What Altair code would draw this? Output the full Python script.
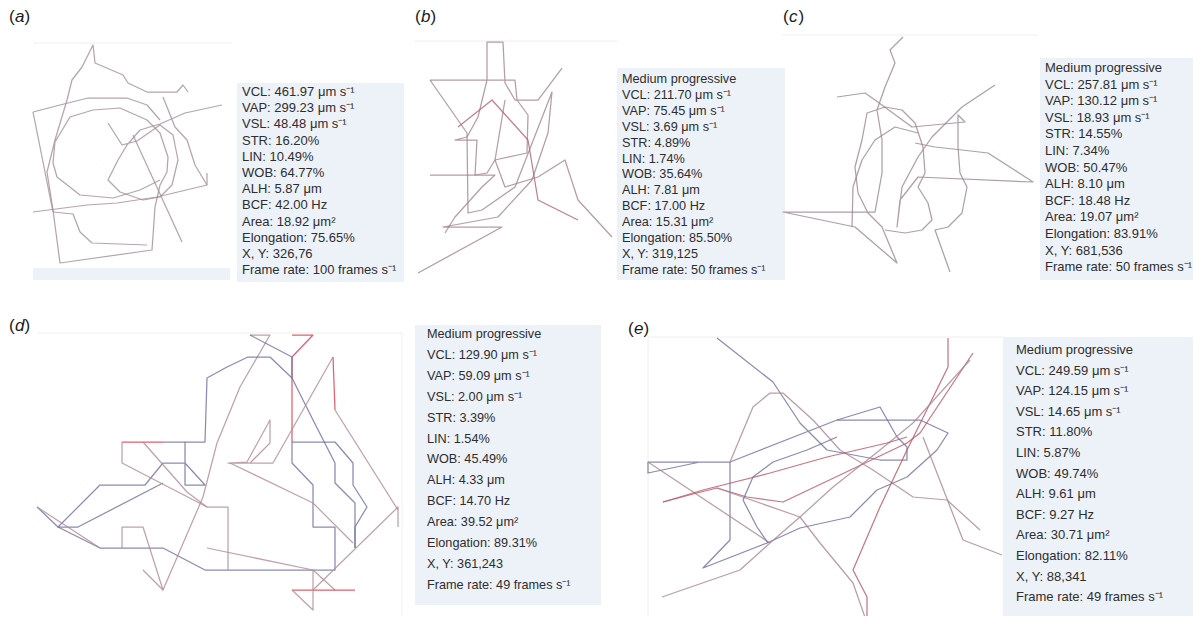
import altair as alt
import pandas as pd

# ---------------- data: info-box texts ----------------
INFO_A = ["VCL: 461.97 μm s⁻¹", "VAP: 299.23 μm s⁻¹", "VSL: 48.48 μm s⁻¹", "STR: 16.20%",
          "LIN: 10.49%", "WOB: 64.77%", "ALH: 5.87 μm", "BCF: 42.00 Hz", "Area: 18.92 μm²",
          "Elongation: 75.65%", "X, Y: 326,76", "Frame rate: 100 frames s⁻¹"]
INFO_B = ["Medium progressive", "VCL: 211.70 μm s⁻¹", "VAP: 75.45 μm s⁻¹", "VSL: 3.69 μm s⁻¹",
          "STR: 4.89%", "LIN: 1.74%", "WOB: 35.64%", "ALH: 7.81 μm", "BCF: 17.00 Hz",
          "Area: 15.31 μm²", "Elongation: 85.50%", "X, Y: 319,125", "Frame rate: 50 frames s⁻¹"]
INFO_C = ["Medium progressive", "VCL: 257.81 μm s⁻¹", "VAP: 130.12 μm s⁻¹", "VSL: 18.93 μm s⁻¹",
          "STR: 14.55%", "LIN: 7.34%", "WOB: 50.47%", "ALH: 8.10 μm", "BCF: 18.48 Hz",
          "Area: 19.07 μm²", "Elongation: 83.91%", "X, Y: 681,536", "Frame rate: 50 frames s⁻¹"]
INFO_D = ["Medium progressive", "VCL: 129.90 μm s⁻¹", "VAP: 59.09 μm s⁻¹", "VSL: 2.00 μm s⁻¹",
          "STR: 3.39%", "LIN: 1.54%", "WOB: 45.49%", "ALH: 4.33 μm", "BCF: 14.70 Hz",
          "Area: 39.52 μm²", "Elongation: 89.31%", "X, Y: 361,243", "Frame rate: 49 frames s⁻¹"]
INFO_E = ["Medium progressive", "VCL: 249.59 μm s⁻¹", "VAP: 124.15 μm s⁻¹", "VSL: 14.65 μm s⁻¹",
          "STR: 11.80%", "LIN: 5.87%", "WOB: 49.74%", "ALH: 9.61 μm", "BCF: 9.27 Hz",
          "Area: 30.71 μm²", "Elongation: 82.11%", "X, Y: 88,341", "Frame rate: 49 frames s⁻¹"]
PANEL_LETTERS = ["a", "b", "c", "d", "e"]

# ---------------- data: trajectory vertices (image frame) ----------------
TRACK_A1 = [(188, 92), (183, 85), (177, 92), (147, 92), (128, 83), (123, 75), (95, 63), (93, 45),
            (82, 67), (72, 80), (67, 100), (55, 140), (47, 172), (53, 210), (60, 263), (152, 250),
            (155, 207), (160, 185), (167, 172), (168, 157), (160, 133), (147, 120), (120, 108),
            (93, 110), (70, 117), (55, 142), (53, 163), (57, 177), (80, 195), (113, 198), (140, 190), (160, 180)]
TRACK_A2 = [(108, 123), (122, 145), (137, 141), (160, 125), (173, 135), (178, 160), (172, 185), (160, 197),
            (143, 200), (120, 192), (108, 180), (118, 160), (127, 145), (140, 130), (160, 124), (185, 113), (222, 105)]
TRACK_A3 = [(33, 112), (60, 105), (88, 98), (127, 98), (147, 105), (160, 120)]
TRACK_A4 = [(33, 112), (53, 212)]
TRACK_A5 = [(33, 212), (87, 205), (117, 203), (157, 197), (207, 185), (207, 173)]
TRACK_A6 = [(133, 135), (182, 242)]
TRACK_A7 = [(53, 212), (73, 214), (80, 232), (92, 243), (147, 245)]
TRACK_A8 = [(163, 97), (175, 127), (187, 140), (195, 165), (207, 185)]

TRACK_B1 = [(430, 80), (515, 80), (517, 100), (528, 115), (527, 153), (495, 160), (487, 173), (475, 175),
            (477, 140), (455, 140), (467, 137), (478, 117), (487, 80), (487, 42), (503, 42), (505, 83),
            (515, 100), (538, 100), (562, 68)]
TRACK_B2 = [(430, 80), (467, 133), (468, 213), (482, 210), (515, 187), (552, 92), (548, 133), (532, 180),
            (498, 217), (443, 227), (502, 227), (418, 273)]
TRACK_B3 = [(430, 175), (495, 175), (482, 187), (455, 217), (445, 233)]
TRACK_B4 = [(612, 237), (578, 200), (565, 160), (538, 177), (505, 187), (495, 160), (505, 100)]
TRACK_B5 = [(458, 127), (492, 100), (528, 140), (538, 200), (578, 220)]

TRACK_C1 = [(903, 37), (890, 50), (895, 63), (885, 87), (877, 110), (882, 140), (882, 173), (875, 212),
            (783, 212), (855, 227), (897, 263), (882, 227), (868, 213), (858, 193), (855, 167), (862, 140),
            (867, 113), (885, 107), (902, 110), (915, 123), (923, 147), (925, 173), (918, 187), (928, 203),
            (932, 220), (922, 230), (905, 233), (885, 230)]
TRACK_C2 = [(837, 97), (865, 93), (875, 100), (912, 127), (965, 122), (958, 115), (958, 147), (960, 173),
            (967, 187), (962, 213), (948, 227), (935, 230), (950, 272)]
TRACK_C3 = [(995, 85), (962, 107), (932, 137), (918, 157), (902, 187), (897, 227), (900, 200), (918, 177),
            (1033, 182), (988, 153), (962, 150), (935, 147), (915, 143)]
TRACK_C4 = [(852, 227), (853, 187), (862, 160), (875, 140), (895, 127), (918, 133)]

TRACK_D1 = [(37, 507), (58, 527), (100, 548), (122, 548), (163, 548), (205, 570), (228, 570), (313, 570),
            (335, 570), (335, 527), (313, 527), (313, 485), (292, 463), (292, 442), (335, 442), (353, 463),
            (353, 485), (367, 507), (355, 527), (355, 548)]
TRACK_D2 = [(292, 335), (313, 335), (292, 357), (292, 442)]
TRACK_D3 = [(250, 335), (270, 335), (240, 387), (217, 443), (203, 497), (163, 590), (143, 570)]
TRACK_D4 = [(250, 335), (292, 357), (292, 378), (313, 420), (335, 463), (335, 483), (355, 503), (355, 548)]
TRACK_D5 = [(185, 442), (205, 442), (207, 378), (227, 367), (248, 357), (270, 357), (292, 378)]
TRACK_D6 = [(163, 442), (185, 442), (185, 485), (205, 485), (185, 463), (163, 463), (145, 485), (100, 485),
            (58, 527), (78, 527), (163, 483)]
TRACK_D6R = [(122, 442), (163, 442)]
TRACK_D7 = [(122, 442), (122, 463), (207, 507), (228, 507), (228, 570)]
TRACK_D8 = [(143, 442), (187, 492), (207, 507)]
TRACK_D9R = [(333, 357), (335, 410)]
TRACK_D9 = [(335, 410), (398, 510)]
TRACK_D10 = [(333, 357), (273, 463), (228, 463), (247, 462), (270, 420), (270, 443), (250, 463)]
TRACK_D11 = [(230, 463), (313, 503), (353, 543)]
TRACK_D12 = [(122, 548), (122, 527), (143, 527), (163, 590)]
TRACK_D13 = [(207, 548), (313, 570), (335, 590)]
TRACK_D13R = [(292, 590), (355, 590)]
TRACK_D13B = [(292, 590), (313, 610), (313, 570)]
TRACK_D14 = [(313, 590), (398, 507), (398, 527)]
TRACK_D15 = [(37, 507), (100, 548)]

TRACK_E1 = [(717, 338), (773, 382), (800, 423), (827, 450), (880, 460), (907, 460), (907, 447), (897, 437),
            (880, 407), (837, 420), (730, 462), (648, 462), (648, 473), (700, 462), (730, 462)]
TRACK_E2 = [(730, 462), (753, 407), (770, 393), (783, 393), (813, 420), (840, 450), (873, 470), (913, 497),
            (947, 500), (980, 530)]
TRACK_E3 = [(730, 462), (730, 540), (703, 568), (767, 543), (800, 528), (850, 517), (877, 490), (907, 477),
            (937, 450), (948, 433), (920, 420), (837, 420)]
TRACK_E4 = [(648, 462), (770, 543)]
TRACK_E5 = [(663, 502), (697, 493), (717, 488), (747, 497), (783, 502), (840, 475), (907, 443), (920, 433),
            (973, 353)]
TRACK_E6 = [(948, 338), (948, 367), (907, 450), (880, 507), (853, 570), (867, 597), (867, 623)]
TRACK_E7 = [(662, 597), (740, 570), (770, 543), (800, 517), (833, 487), (880, 450), (913, 423), (970, 360)]
TRACK_E8 = [(717, 488), (800, 517), (820, 543), (853, 583), (867, 623)]
TRACK_E9 = [(923, 437), (963, 540), (1002, 555)]
TRACK_E10 = [(743, 500), (753, 477), (773, 462), (807, 450), (837, 437)]
TRACK_E10B = [(743, 500), (757, 527), (768, 543)]
TRACK_E11 = [(663, 502), (703, 490), (770, 473), (827, 457), (887, 443), (907, 437)]

# track registry: (name, vertices, colour key)
TRACKS = [
    ("a1", TRACK_A1, "ma"), ("a2", TRACK_A2, "ma"), ("a3", TRACK_A3, "ma"), ("a4", TRACK_A4, "ma"),
    ("a5", TRACK_A5, "ma"), ("a6", TRACK_A6, "ma"), ("a7", TRACK_A7, "ma"), ("a8", TRACK_A8, "ma"),
    ("b1", TRACK_B1, "mb"), ("b2", TRACK_B2, "mb"), ("b3", TRACK_B3, "mb"), ("b4", TRACK_B4, "mb"),
    ("b5", TRACK_B5, "rb"),
    ("c1", TRACK_C1, "mc"), ("c2", TRACK_C2, "mc"), ("c3", TRACK_C3, "mc"), ("c4", TRACK_C4, "mc"),
    ("d1", TRACK_D1, "bl"), ("d2", TRACK_D2, "rd"), ("d3", TRACK_D3, "md"), ("d4", TRACK_D4, "bl"),
    ("d5", TRACK_D5, "bl"), ("d6", TRACK_D6, "bl"), ("d6r", TRACK_D6R, "rd"), ("d7", TRACK_D7, "md"),
    ("d8", TRACK_D8, "md"), ("d9r", TRACK_D9R, "rd"), ("d9", TRACK_D9, "md"), ("d10", TRACK_D10, "md"),
    ("d11", TRACK_D11, "md"), ("d12", TRACK_D12, "md"), ("d13", TRACK_D13, "md"), ("d13r", TRACK_D13R, "rd"),
    ("d13b", TRACK_D13B, "md"), ("d14", TRACK_D14, "md"), ("d15", TRACK_D15, "md"),
    ("e1", TRACK_E1, "bl"), ("e2", TRACK_E2, "me"), ("e3", TRACK_E3, "bl"), ("e4", TRACK_E4, "me"),
    ("e5", TRACK_E5, "re"), ("e6", TRACK_E6, "re"), ("e7", TRACK_E7, "me"), ("e8", TRACK_E8, "me"),
    ("e9", TRACK_E9, "me"), ("e10", TRACK_E10, "bl"), ("e10b", TRACK_E10B, "bl"), ("e11", TRACK_E11, "re"),
]

# ---------------- styles & layout ----------------
COLOURS = {"ma": "#a48d99", "mb": "#a2838f", "rb": "#b0606e", "mc": "#9a8692",
           "bl": "#6d6e9c", "rd": "#d8384a", "md": "#b08a93", "me": "#a98590", "re": "#b85565"}
BOX_FILL = "#edf1f8"
TEXT_COLOUR = "#2e2e2e"
FONT = "Liberation Sans"

LAYOUT = {
    "a": dict(lab=(9, 17), box=(237, 83, 404, 282), tx=242, ty=92, dy=16.2, fs=13),
    "b": dict(lab=(415, 17), box=(617, 68, 785, 280), tx=622, ty=79, dy=15.9, fs=12.7),
    "c": dict(lab=(783, 17), box=(1040, 58, 1201, 280), tx=1045, ty=68, dy=16.6, fs=13),
    "d": dict(lab=(9, 326), box=(415, 325, 601, 605), tx=427, ty=334, dy=20.9, fs=12.7),
    "e": dict(lab=(628, 329), box=(1003, 337, 1201, 624), tx=1016, ty=350, dy=20.6, fs=13),
}
INFOS = {"a": INFO_A, "b": INFO_B, "c": INFO_C, "d": INFO_D, "e": INFO_E}
# faint frame lines around the tracking areas (x1, y1, x2, y2)
FRAMES = [(33, 43, 232, 43), (415, 41, 617, 41), (782, 35, 1037, 35), (38, 333, 402, 333),
          (402, 333, 402, 624), (648, 337, 1003, 337), (648, 337, 648, 624)]
BANDS = [(33, 268, 230, 280)]

# ---------------- build tables ----------------
track_rows = []
for name, pts, ck in TRACKS:
    for i, (x, y) in enumerate(pts):
        track_rows.append(dict(tid=name, i=i, x=x, y=y, col=COLOURS[ck]))
tracks_df = pd.DataFrame(track_rows)

box_rows = [dict(x=L["box"][0], y=L["box"][1], x2=L["box"][2], y2=L["box"][3]) for L in LAYOUT.values()]
box_rows += [dict(x=b[0], y=b[1], x2=b[2], y2=b[3]) for b in BANDS]
boxes_df = pd.DataFrame(box_rows)

frames_df = pd.DataFrame([dict(x=f[0], y=f[1], x2=f[2], y2=f[3]) for f in FRAMES])

text_rows = []
for k, info in INFOS.items():
    L = LAYOUT[k]
    for i, t in enumerate(info):
        text_rows.append(dict(x=L["tx"], y=L["ty"] + i * L["dy"], t=t, fs=L["fs"]))
text_df = pd.DataFrame(text_rows)

paren_rows, letter_rows = [], []
for k in PANEL_LETTERS:
    lx, ly = LAYOUT[k]["lab"]
    paren_rows.append(dict(x=lx, y=ly, t="("))
    letter_rows.append(dict(x=lx + 6, y=ly, t=k))
    paren_rows.append(dict(x=lx + 15.5, y=ly, t=")"))
paren_df = pd.DataFrame(paren_rows)
letter_df = pd.DataFrame(letter_rows)

XS = alt.Scale(domain=[8, 1193], nice=False, zero=False)
YS = alt.Scale(domain=[8, 616], nice=False, zero=False, reverse=True)

boxes = alt.Chart(boxes_df).mark_rect(color=BOX_FILL).encode(
    x=alt.X("x:Q", scale=XS, axis=None), x2="x2:Q",
    y=alt.Y("y:Q", scale=YS, axis=None), y2="y2:Q")

frames = alt.Chart(frames_df).mark_rule(color="#eeeeee", strokeWidth=1).encode(
    x=alt.X("x:Q", scale=XS, axis=None), x2="x2:Q",
    y=alt.Y("y:Q", scale=YS, axis=None), y2="y2:Q")

lines = alt.Chart(tracks_df).mark_line(strokeWidth=1.25, opacity=0.8, strokeJoin="round").encode(
    x=alt.X("x:Q", scale=XS, axis=None),
    y=alt.Y("y:Q", scale=YS, axis=None),
    detail="tid:N",
    order="i:Q",
    color=alt.Color("col:N", scale=None))

texts = alt.Chart(text_df).mark_text(align="left", baseline="middle", font=FONT,
                                     color=TEXT_COLOUR).encode(
    x=alt.X("x:Q", scale=XS, axis=None),
    y=alt.Y("y:Q", scale=YS, axis=None),
    size=alt.Size("fs:Q", scale=None),
    text="t:N")

parens = alt.Chart(paren_df).mark_text(align="left", baseline="middle", font=FONT, fontSize=17,
                                       color="#1a1a1a").encode(
    x=alt.X("x:Q", scale=XS, axis=None),
    y=alt.Y("y:Q", scale=YS, axis=None),
    text="t:N")

letters = alt.Chart(letter_df).mark_text(align="left", baseline="middle", font=FONT, fontSize=17,
                                         fontStyle="italic", color="#1a1a1a").encode(
    x=alt.X("x:Q", scale=XS, axis=None),
    y=alt.Y("y:Q", scale=YS, axis=None),
    text="t:N")

chart = alt.layer(boxes, frames, lines, texts, parens, letters).properties(
    width=1185, height=608, padding=0,
    autosize=alt.AutoSizeParams(type="none"),
    background="white",
).configure_view(stroke=None)

chart.save("out.html", embed_options={"renderer": "svg", "actions": False})
